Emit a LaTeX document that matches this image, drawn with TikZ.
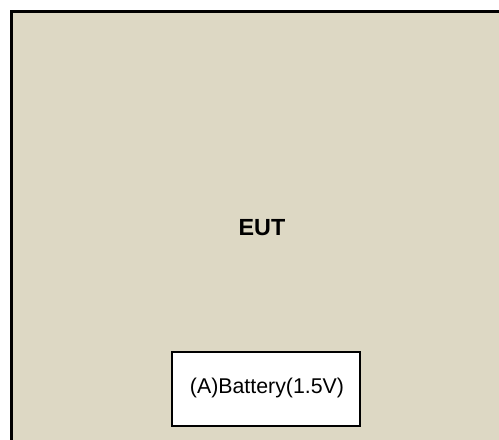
\documentclass[tikz,border=0pt]{standalone}
\usepackage{fontspec}
\setmainfont{Liberation Sans}
\definecolor{eutbg}{RGB}{221,216,196}
\begin{document}
\begin{tikzpicture}[x=0.75pt,y=-0.75pt,
  outerbox/.style={draw=black,line width=2.2pt,fill=eutbg},
  innerbox/.style={draw=black,line width=1.8pt,fill=white}]
\useasboundingbox (0,0) rectangle (499,439);
\clip (0,0) rectangle (499,439);
\fill[white] (0,0) rectangle (499,439);
\draw[outerbox] (11.5,11.5) rectangle (520,460);
\node[innerbox,minimum width=188*0.75pt,minimum height=74*0.75pt,anchor=north west,inner sep=0pt] (bat) at (171,351) {};
\node[font=\fontsize{17.5}{20}\selectfont\bfseries] (eut) at (262,227.5) {EUT};
\node[font=\fontsize{16}{19}\selectfont] (battxt) at (267,388) {(A)Battery(1.5V)};
\end{tikzpicture}
\end{document}
